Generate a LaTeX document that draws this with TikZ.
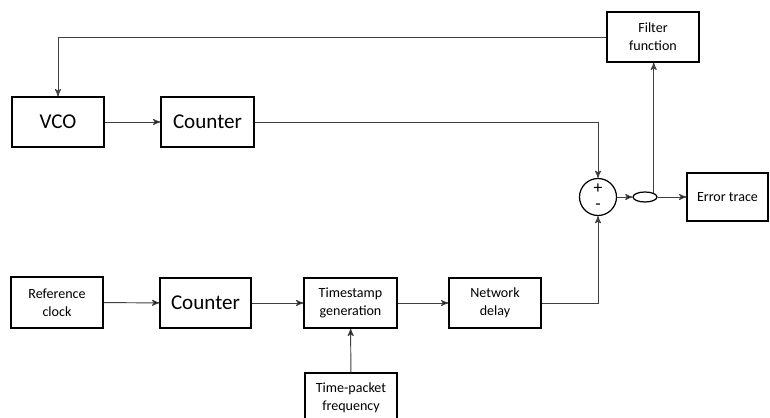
\documentclass[tikz,border=0pt]{standalone}
\usepackage{fontspec}
\setmainfont{Carlito}
\usetikzlibrary{arrows,shapes.geometric}

\begin{document}
\begin{tikzpicture}[x=0.02cm,y=-0.02cm,>=stealth',
  block/.style={draw,line width=0.8pt,minimum width=1.84cm,minimum height=1cm,align=center,inner sep=1pt},
  big/.style={font=\fontsize{12}{14}\selectfont},
  small/.style={font=\fontsize{8}{10.4}\selectfont},
  wire/.style={draw=black!75,line width=0.55pt}]
\clip (0,0) rectangle (770,418);
\node[block,small] (filter) at (653,37) {Filter\\function};
\node[block,big] (vco) at (58,122) {VCO};
\node[block,big,minimum width=1.86cm] (cnta) at (207.5,122) {Counter};
\node[circle,draw,line width=0.7pt,minimum size=0.74cm,inner sep=0pt] (sum) at (598,197) {};
\node[font=\fontsize{10}{10}\selectfont] (plus) at (598,188.5) {+};
\node[font=\fontsize{10}{10}\selectfont] (minus) at (598,207) {-};
\node[ellipse,draw,line width=0.7pt,minimum width=0.48cm,minimum height=0.2cm,inner sep=0pt] (oval) at (645,197) {};
\node[block,small,minimum width=1.62cm,minimum height=0.96cm] (err) at (727.5,197) {Error trace};
\node[block,small,minimum height=1.02cm] (ref) at (57,302.5) {Reference\\clock};
\node[block,big,minimum width=1.82cm] (cntb) at (205.5,303) {Counter};
\node[block,small,minimum width=1.86cm] (ts) at (350.5,303) {Timestamp\\generation};
\node[block,small] (net) at (495,303) {Network\\delay};
\node[block,small] (tp) at (351,398) {Time-packet\\frequency};
\draw[wire,->] (filter.west) -| (vco.north);
\draw[wire,->] (vco) edge (cnta);
\draw[wire,->] (cnta.east) -| (sum.north);
\draw[wire,->] (ref) edge (cntb);
\draw[wire,->] (cntb) edge (ts);
\draw[wire,->] (ts) edge (net);
\draw[wire,->] (tp) edge (ts);
\draw[wire,->] (net.east) -| (sum.south);
\draw[wire,->] (sum) edge (oval);
\draw[wire,->] (oval) edge (err);
\draw[wire,->] (oval.25) -- (oval.25 |- filter.south);
\end{tikzpicture}
\end{document}
